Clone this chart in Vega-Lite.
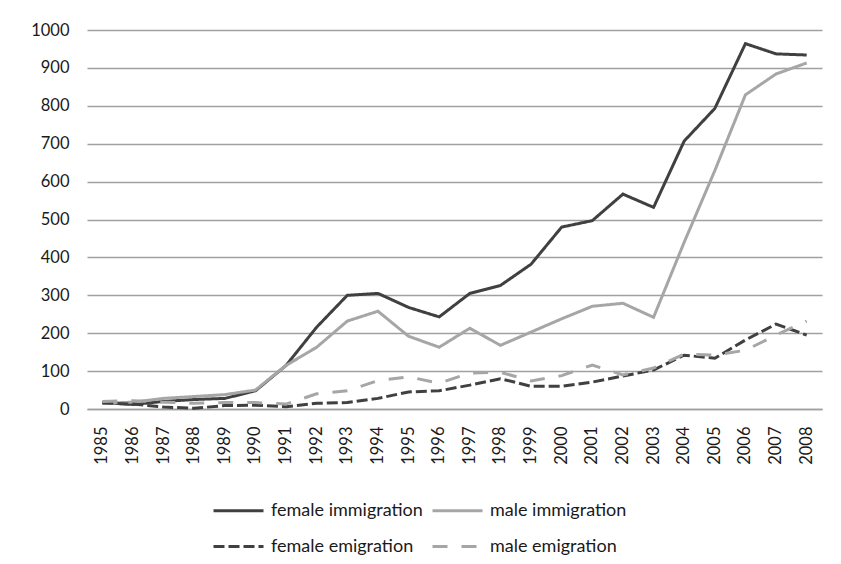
{
  "$schema": "https://vega.github.io/schema/vega-lite/v6.json",
  "width": 735,
  "height": 379,
  "autosize": {"type": "none"},
  "padding": {"left": 87, "top": 30, "right": 19, "bottom": 155},
  "background": "white",
  "config": {
    "view": {"stroke": null},
    "font": "Lato",
    "axis": {"labelFont": "Lato", "labelFontSize": 16.5, "labelColor": "#1a1a1a"}
  },
  "data": {
    "values": [
      {"year": "1985", "series": "female immigration", "value": 17},
      {"year": "1986", "series": "female immigration", "value": 12},
      {"year": "1987", "series": "female immigration", "value": 20},
      {"year": "1988", "series": "female immigration", "value": 25},
      {"year": "1989", "series": "female immigration", "value": 28},
      {"year": "1990", "series": "female immigration", "value": 48},
      {"year": "1991", "series": "female immigration", "value": 115},
      {"year": "1992", "series": "female immigration", "value": 216},
      {"year": "1993", "series": "female immigration", "value": 300},
      {"year": "1994", "series": "female immigration", "value": 305},
      {"year": "1995", "series": "female immigration", "value": 268},
      {"year": "1996", "series": "female immigration", "value": 243},
      {"year": "1997", "series": "female immigration", "value": 305},
      {"year": "1998", "series": "female immigration", "value": 326},
      {"year": "1999", "series": "female immigration", "value": 382},
      {"year": "2000", "series": "female immigration", "value": 480},
      {"year": "2001", "series": "female immigration", "value": 497},
      {"year": "2002", "series": "female immigration", "value": 567},
      {"year": "2003", "series": "female immigration", "value": 532},
      {"year": "2004", "series": "female immigration", "value": 707},
      {"year": "2005", "series": "female immigration", "value": 793},
      {"year": "2006", "series": "female immigration", "value": 964},
      {"year": "2007", "series": "female immigration", "value": 937},
      {"year": "2008", "series": "female immigration", "value": 934},
      {"year": "1985", "series": "male immigration", "value": 15},
      {"year": "1986", "series": "male immigration", "value": 18},
      {"year": "1987", "series": "male immigration", "value": 28},
      {"year": "1988", "series": "male immigration", "value": 33},
      {"year": "1989", "series": "male immigration", "value": 38},
      {"year": "1990", "series": "male immigration", "value": 50},
      {"year": "1991", "series": "male immigration", "value": 115},
      {"year": "1992", "series": "male immigration", "value": 163},
      {"year": "1993", "series": "male immigration", "value": 232},
      {"year": "1994", "series": "male immigration", "value": 258},
      {"year": "1995", "series": "male immigration", "value": 192},
      {"year": "1996", "series": "male immigration", "value": 163},
      {"year": "1997", "series": "male immigration", "value": 213},
      {"year": "1998", "series": "male immigration", "value": 168},
      {"year": "1999", "series": "male immigration", "value": 203},
      {"year": "2000", "series": "male immigration", "value": 238},
      {"year": "2001", "series": "male immigration", "value": 271},
      {"year": "2002", "series": "male immigration", "value": 279},
      {"year": "2003", "series": "male immigration", "value": 242},
      {"year": "2004", "series": "male immigration", "value": 440},
      {"year": "2005", "series": "male immigration", "value": 629},
      {"year": "2006", "series": "male immigration", "value": 829},
      {"year": "2007", "series": "male immigration", "value": 884},
      {"year": "2008", "series": "male immigration", "value": 913},
      {"year": "1985", "series": "female emigration", "value": 16},
      {"year": "1986", "series": "female emigration", "value": 13},
      {"year": "1987", "series": "female emigration", "value": 5},
      {"year": "1988", "series": "female emigration", "value": 2},
      {"year": "1989", "series": "female emigration", "value": 9},
      {"year": "1990", "series": "female emigration", "value": 10},
      {"year": "1991", "series": "female emigration", "value": 6},
      {"year": "1992", "series": "female emigration", "value": 15},
      {"year": "1993", "series": "female emigration", "value": 17},
      {"year": "1994", "series": "female emigration", "value": 28},
      {"year": "1995", "series": "female emigration", "value": 45},
      {"year": "1996", "series": "female emigration", "value": 48},
      {"year": "1997", "series": "female emigration", "value": 63},
      {"year": "1998", "series": "female emigration", "value": 80},
      {"year": "1999", "series": "female emigration", "value": 60},
      {"year": "2000", "series": "female emigration", "value": 60},
      {"year": "2001", "series": "female emigration", "value": 71},
      {"year": "2002", "series": "female emigration", "value": 87},
      {"year": "2003", "series": "female emigration", "value": 103},
      {"year": "2004", "series": "female emigration", "value": 142},
      {"year": "2005", "series": "female emigration", "value": 134},
      {"year": "2006", "series": "female emigration", "value": 182},
      {"year": "2007", "series": "female emigration", "value": 224},
      {"year": "2008", "series": "female emigration", "value": 195},
      {"year": "1985", "series": "male emigration", "value": 20},
      {"year": "1986", "series": "male emigration", "value": 22},
      {"year": "1987", "series": "male emigration", "value": 18},
      {"year": "1988", "series": "male emigration", "value": 15},
      {"year": "1989", "series": "male emigration", "value": 17},
      {"year": "1990", "series": "male emigration", "value": 17},
      {"year": "1991", "series": "male emigration", "value": 13},
      {"year": "1992", "series": "male emigration", "value": 40},
      {"year": "1993", "series": "male emigration", "value": 48},
      {"year": "1994", "series": "male emigration", "value": 75},
      {"year": "1995", "series": "male emigration", "value": 85},
      {"year": "1996", "series": "male emigration", "value": 68},
      {"year": "1997", "series": "male emigration", "value": 95},
      {"year": "1998", "series": "male emigration", "value": 97},
      {"year": "1999", "series": "male emigration", "value": 74},
      {"year": "2000", "series": "male emigration", "value": 88},
      {"year": "2001", "series": "male emigration", "value": 116},
      {"year": "2002", "series": "male emigration", "value": 90},
      {"year": "2003", "series": "male emigration", "value": 108},
      {"year": "2004", "series": "male emigration", "value": 145},
      {"year": "2005", "series": "male emigration", "value": 142},
      {"year": "2006", "series": "male emigration", "value": 155},
      {"year": "2007", "series": "male emigration", "value": 195},
      {"year": "2008", "series": "male emigration", "value": 232}
    ]
  },
  "mark": {"type": "line", "strokeWidth": 3, "strokeJoin": "miter"},
  "encoding": {
    "x": {
      "field": "year",
      "type": "ordinal",
      "scale": {"type": "band", "paddingInner": 0, "paddingOuter": 0},
      "axis": {
        "title": null,
        "labelAngle": -90,
        "labelAlign": "right",
        "labelBaseline": "middle",
        "labelPadding": 17,
        "ticks": false,
        "domainColor": "#a0a0a0",
        "domainWidth": 1.5,
        "grid": false
      }
    },
    "y": {
      "field": "value",
      "type": "quantitative",
      "scale": {"domain": [0, 1000], "nice": false},
      "axis": {
        "title": null,
        "format": "d",
        "values": [0, 100, 200, 300, 400, 500, 600, 700, 800, 900, 1000],
        "ticks": false,
        "domain": false,
        "labelPadding": 18,
        "gridColor": "#a0a0a0",
        "gridWidth": 1.5
      }
    },
    "color": {
      "field": "series",
      "type": "nominal",
      "scale": {
        "domain": ["female immigration", "male immigration", "female emigration", "male emigration"],
        "range": ["#404040", "#a6a6a6", "#404040", "#a6a6a6"]
      },
      "legend": {
        "title": null,
        "orient": "none",
        "direction": "horizontal",
        "legendX": 125,
        "legendY": 454,
        "columns": 2,
        "columnPadding": 3,
        "rowPadding": -13,
        "symbolType": "stroke",
        "symbolSize": 2500,
        "symbolStrokeWidth": 3,
        "labelFont": "Lato",
        "labelFontSize": 18,
        "labelColor": "#1a1a1a",
        "labelOffset": 6
      }
    },
    "strokeDash": {
      "field": "series",
      "type": "nominal",
      "scale": {
        "domain": ["female immigration", "male immigration", "female emigration", "male emigration"],
        "range": [[1, 0], [1, 0], [11, 4], [15, 14]]
      },
      "legend": {
        "title": null,
        "orient": "none",
        "direction": "horizontal",
        "legendX": 125,
        "legendY": 454,
        "columns": 2,
        "columnPadding": 3,
        "rowPadding": -13,
        "symbolType": "stroke",
        "symbolSize": 2500,
        "symbolStrokeWidth": 3,
        "labelFont": "Lato",
        "labelFontSize": 18,
        "labelColor": "#1a1a1a",
        "labelOffset": 6
      }
    }
  }
}
